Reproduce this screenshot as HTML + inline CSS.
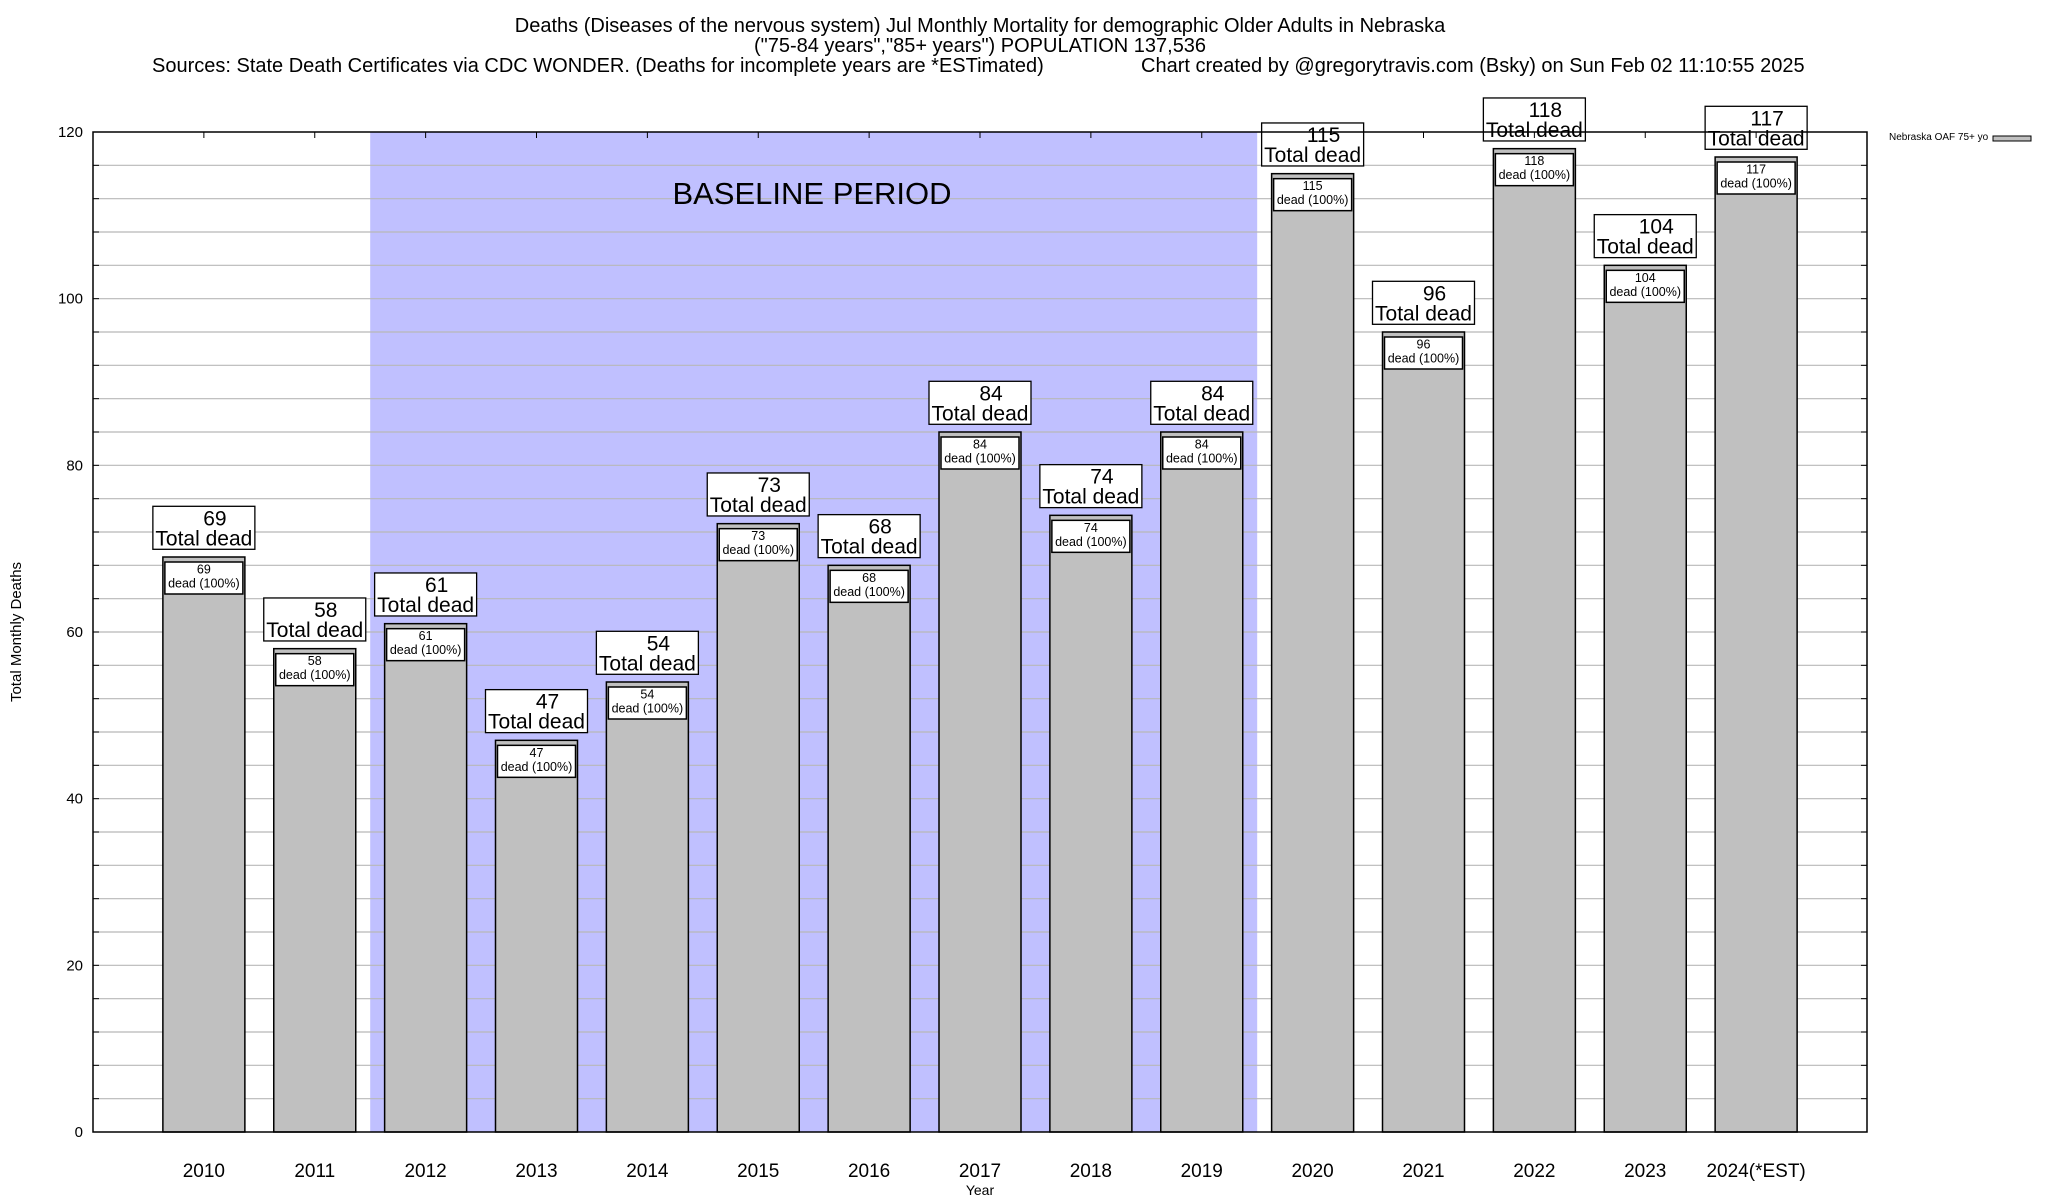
<!DOCTYPE html>
<html><head><meta charset="utf-8"><style>
html,body{margin:0;padding:0;background:#fff;}
svg{display:block;font-family:"Liberation Sans",Arial,sans-serif;}
</style></head><body>
<svg id="chart" width="2048" height="1200" viewBox="0 0 2048 1200" xmlns="http://www.w3.org/2000/svg">
<text x="980" y="32" font-size="20" text-anchor="middle">Deaths (Diseases of the nervous system) Jul Monthly Mortality for demographic Older Adults in Nebraska</text>
<text x="980" y="52" font-size="20" text-anchor="middle">("75-84 years","85+ years") POPULATION 137,536</text>
<text x="152" y="72" font-size="20">Sources: State Death Certificates via CDC WONDER. (Deaths for incomplete years are *ESTimated)</text>
<text x="1141" y="72" font-size="20">Chart created by @gregorytravis.com (Bsky) on Sun Feb 02 11:10:55 2025</text>
<g id="grid"></g>
<g id="bars"></g>
<g id="axes"></g>
<text transform="translate(21,632) rotate(-90)" font-size="15" text-anchor="middle">Total Monthly Deaths</text>
<text x="980" y="1195" font-size="14" text-anchor="middle">Year</text>
<g>
<text x="1889" y="140" font-size="10">Nebraska OAF 75+ yo</text>
<rect x="1993" y="136" width="38" height="5" fill="#c0c0c0" stroke="#000" stroke-width="1"/>
</g>
</svg>
<script>
const categories = ["2010","2011","2012","2013","2014","2015","2016","2017","2018","2019","2020","2021","2022","2023","2024(*EST)"];
const deaths = [69,58,61,47,54,73,68,84,74,84,115,96,118,104,117];
const yTicks = [0,20,40,60,80,100,120];
const baselineRange = [1.5, 9.5];
const baselineLabel = "BASELINE PERIOD";

const NS = "http://www.w3.org/2000/svg";
const L = 93, R = 1867, T = 132, B = 1132;
const yMax = 120;
const xScale = i => L + (i + 1) * (R - L) / (categories.length + 1);
const yScale = v => B - v * (B - T) / yMax;
const bw = 82;

function mk(tag, attrs, parent, txt) {
  const e = document.createElementNS(NS, tag);
  for (const k in attrs) e.setAttribute(k, attrs[k]);
  if (txt !== undefined) e.textContent = txt;
  parent.appendChild(e);
  return e;
}
const grid = document.getElementById('grid');
const bars = document.getElementById('bars');
const axes = document.getElementById('axes');

const sh = mk('rect', {x: xScale(baselineRange[0]), y: T, width: xScale(baselineRange[1]) - xScale(baselineRange[0]), height: B - T, fill: '#c0c0ff'}, grid);



for (let v = 4; v < yMax; v += 4) {
  const g = mk('line', {x1: L, x2: R, y1: yScale(v), y2: yScale(v), stroke: '#b8b8b8', 'stroke-width': 1.2}, grid);
  
  
  const t1 = mk('line', {x1: L, x2: L + 6, y1: yScale(v), y2: yScale(v), stroke: '#000'}, axes);
  
  
  const t2 = mk('line', {x1: R - 6, x2: R, y1: yScale(v), y2: yScale(v), stroke: '#000'}, axes);
  
  
}
const bl = mk('text', {x: 812, y: 204, 'font-size': 31, 'text-anchor': 'middle'}, grid, baselineLabel);



yTicks.forEach(v => {
  const t = mk('text', {x: 83, y: yScale(v) + 5, 'font-size': 15, 'text-anchor': 'end'}, axes, String(v));
  
  
});

categories.forEach((c, i) => {
  const cx = xScale(i), top = yScale(deaths[i]);
  const b = mk('rect', {x: cx - bw / 2, y: top, width: bw, height: B - top, fill: '#c0c0c0', stroke: '#000', 'stroke-width': 1.5}, bars);
  
  
  const ib = mk('rect', {x: cx - bw / 2 + 2, y: top + 5, width: bw - 4, height: 32, fill: '#fff', stroke: '#000', 'stroke-width': 1.5}, bars);
  
  
  const i1 = mk('text', {x: cx, y: top + 16.5, 'font-size': 12.5, 'text-anchor': 'middle'}, bars, String(deaths[i]));
  
  
  const i2 = mk('text', {x: cx, y: top + 30.5, 'font-size': 12.5, 'text-anchor': 'middle'}, bars, 'dead (100%)');
  
  
  const bt = top - 7.7 - 43;
  const ob = mk('rect', {x: cx - 51, y: bt, width: 102, height: 43, fill: '#fff', stroke: '#000', 'stroke-width': 1.3}, bars);
  
  
  const o1 = mk('text', {x: cx + 11, y: bt + 19, 'font-size': 21, 'text-anchor': 'middle'}, bars, String(deaths[i]));
  
  
  const o2 = mk('text', {x: cx, y: bt + 39, 'font-size': 21, 'text-anchor': 'middle'}, bars, 'Total dead');
  
  
  const xt = mk('line', {x1: cx, x2: cx, y1: T, y2: T + 6, stroke: '#000'}, axes);
  
  
  const xl = mk('text', {x: cx, y: 1177, 'font-size': 19, 'text-anchor': 'middle'}, axes, c);
  
  
});

const frame = mk('rect', {x: L, y: T, width: R - L, height: B - T, fill: 'none', stroke: '#000', 'stroke-width': 1.5}, axes);


</script>
</body></html>
